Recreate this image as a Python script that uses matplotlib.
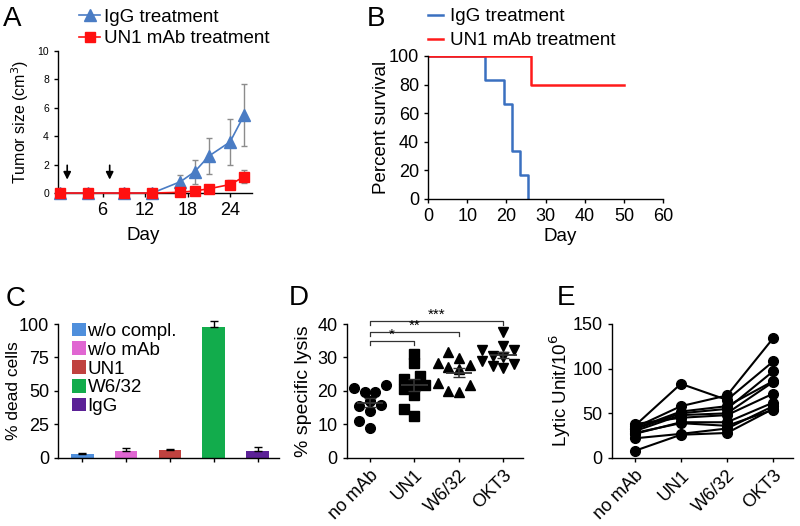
import numpy as np
import matplotlib.pyplot as plt

plt.rcParams['font.family'] = ['Liberation Sans', 'DejaVu Sans']

# A: tumour growth
days = [0, 4, 9, 13, 17, 19, 21, 24, 26]
igg_size = [0, 0, 0, 0, 0.8, 1.5, 2.6, 3.6, 5.5]
igg_err = [0, 0, 0, 0, 0.5, 0.85, 1.25, 1.6, 2.2]
un1_size = [0, 0, 0, 0, 0.05, 0.15, 0.3, 0.6, 1.15]
un1_err = [0, 0, 0, 0, 0.05, 0.1, 0.12, 0.35, 0.45]
injection_days = [1, 7]

# B: survival
igg_t = [0, 14.5, 19.3, 21.4, 23.5, 25.5]
igg_surv = [100, 83.3, 66.7, 33.3, 16.7, 0]
un1_t = [0, 26.4, 50]
un1_surv = [100, 80, 80]

# C: complement-dependent cytotoxicity
c_groups = ['w/o compl.', 'w/o mAb', 'UN1', 'W6/32', 'IgG']
c_dead = [2.5, 5, 5.7, 97.5, 5]
c_err = [1.2, 2.5, 0.8, 5, 3.2]
c_colors = ['#4f8fdc', '#e066d2', '#c0423f', '#12ac4c', '#5b2196']

# D: specific lysis
d_groups = ['no mAb', 'UN1', 'W6/32', 'OKT3']
d_nomab = [20.9, 21.7, 19.6, 19.7, 17, 15.6, 15.8, 14, 11, 9]
d_un1 = [31, 28.2, 24.4, 23.7, 21.7, 21.7, 20.5, 18.8, 14.6, 12.6]
d_w632 = [31.5, 29.7, 28.2, 27.7, 27.2, 26.5, 22.3, 21.7, 19.7, 20]
d_okt3 = [37.5, 33.5, 32.2, 32.2, 30.2, 30.5, 29, 27.9, 27.5, 26.9]
d_markers = ['o', 's', '^', 'v']
d_stars = ['*', '**', '***']

# E: lytic units per donor
e_nomab = [8, 22, 27, 30, 32, 34, 36, 38, 28, 33]
e_un1 = [26, 27, 40, 48, 50, 58, 83, 45, 39, 52]
e_w632 = [28, 33, 40, 50, 55, 70, 65, 48, 36, 58]
e_okt3 = [55, 58, 62, 85, 97, 134, 108, 72, 54, 86]


def style(ax):
    for s in ['top', 'right']:
        ax.spines[s].set_visible(False)
    for s in ['left', 'bottom']:
        ax.spines[s].set_linewidth(1.0)
    ax.tick_params(direction='out', length=3, width=1)


def swarm(values, dx, dy):
    placed = []
    offs = np.zeros(len(values))
    cand = sorted(np.arange(-8, 9) * dx / 2, key=abs)
    for i in np.argsort(values):
        v = values[i]
        for c in cand:
            if all(((c - px) / dx) ** 2 + ((v - py) / dy) ** 2 >= 1 for px, py in placed):
                break
        placed.append((c, v))
        offs[i] = c
    return offs


fig = plt.figure(figsize=(8, 5.26), dpi=100)

# ---- A
axA = fig.add_axes([0.0725, 0.633, 0.2425, 0.270])
style(axA)
blue = '#4a7cc4'
axA.errorbar(days, igg_size, yerr=igg_err, fmt='none', ecolor='#8c8c8c',
             elinewidth=1, capsize=2, zorder=2)
axA.errorbar(days, un1_size, yerr=un1_err, fmt='none', ecolor='#8c8c8c',
             elinewidth=1, capsize=2, zorder=2)
axA.plot(days, igg_size, '-^', color=blue, ms=8, lw=1.2, label='IgG treatment',
         clip_on=False, zorder=3)
axA.plot(days, un1_size, '-s', color='#ff1010', ms=7, lw=1.2,
         label='UN1 mAb treatment', clip_on=False, zorder=4)
for d in injection_days:
    axA.annotate('', xy=(d, 0.75), xytext=(d, 2.15),
                 arrowprops=dict(arrowstyle='-|>', color='k', lw=1.2, mutation_scale=11))
axA.set_xlim(-0.3, 27.1)
axA.set_ylim(0, 10)
axA.set_xticks([6, 12, 18, 24])
axA.set_yticks([0, 2, 4, 6, 8, 10])
axA.tick_params(axis='y', labelsize=7.5)
axA.tick_params(axis='x', labelsize=13)
axA.set_ylabel('Tumor size (cm$^3$)', fontsize=11.5)
axA.set_xlabel('Day', fontsize=13.5)
axA.yaxis.set_label_coords(-0.14, 0.5)
axA.xaxis.set_label_coords(0.44, -0.24)
axA.legend(loc='upper left', bbox_to_anchor=(0.11, 1.30), frameon=False,
           fontsize=13.5, borderpad=0, handlelength=1.1, handletextpad=0.2,
           labelspacing=0.25, numpoints=1, borderaxespad=0)

# ---- B
axB = fig.add_axes([0.535, 0.6217, 0.294, 0.272])
style(axB)
axB.step(igg_t, igg_surv, where='post', color='#3a70c0', lw=1.8, label='IgG treatment')
axB.step(un1_t, un1_surv, where='post', color='#ff1a1a', lw=1.8, label='UN1 mAb treatment')
axB.set_xlim(0, 60)
axB.set_ylim(0, 100)
axB.set_xticks(range(0, 61, 10))
axB.set_yticks(range(0, 101, 20))
axB.tick_params(labelsize=13)
axB.set_ylabel('Percent survival', fontsize=13.5)
axB.set_xlabel('Day', fontsize=13.5)
axB.yaxis.set_label_coords(-0.162, 0.5)
axB.xaxis.set_label_coords(0.56, -0.2)
axB.legend(loc='upper left', bbox_to_anchor=(0.0, 1.335), frameon=False,
           fontsize=13.5, borderpad=0, handlelength=0.8, handletextpad=0.4,
           labelspacing=0.38, borderaxespad=0)

# ---- C
axC = fig.add_axes([0.0725, 0.1299, 0.276, 0.254])
style(axC)
for i, (g, v, e, col) in enumerate(zip(c_groups, c_dead, c_err, c_colors)):
    axC.bar(i, v, width=0.52, color=col, label=g)
    axC.errorbar(i, v, yerr=[[0], [e]], fmt='none', ecolor='k', elinewidth=1,
                 capsize=3, clip_on=False)
axC.set_xlim(-0.55, 4.48)
axC.set_ylim(0, 100)
axC.set_xticks(range(len(c_groups)))
axC.set_xticklabels([])
axC.set_yticks([0, 25, 50, 75, 100])
axC.tick_params(labelsize=13)
axC.set_ylabel('% dead cells', fontsize=12.5)
axC.yaxis.set_label_coords(-0.167, 0.5)
axC.legend(loc='upper left', bbox_to_anchor=(0.063, 1.01), frameon=False,
           fontsize=13.5, borderpad=0, handlelength=0.75, handleheight=0.75,
           handletextpad=0.08, labelspacing=0.07, borderaxespad=0)

# ---- D
axD = fig.add_axes([0.4334, 0.1299, 0.2204, 0.254])
style(axD)
d_sets = [d_nomab, d_un1, d_w632, d_okt3]
for i, (vals, m) in enumerate(zip(d_sets, d_markers)):
    vals = np.array(vals)
    offs = swarm(vals, 0.24, 2.8)
    axD.plot(i + offs, vals, m, color='k', ms=7, ls='none', clip_on=False, zorder=3)
    mean = vals.mean()
    sem = vals.std(ddof=1) / np.sqrt(len(vals))
    axD.hlines(mean, i - 0.3, i + 0.3, color='#333333', lw=1.3, zorder=4)
    axD.errorbar(i, mean, yerr=sem, fmt='none', ecolor='#333333', elinewidth=1.2,
                 capsize=4.5, zorder=4)
for j, (stars, level) in enumerate(zip(d_stars, [35, 37.6, 40.9])):
    x1 = j + 1
    axD.plot([0, 0, x1, x1], [level - 1.2, level, level, level - 1.2], color='#333333',
             lw=0.9, clip_on=False)
    axD.text(x1 / 2, level - 0.2, stars, ha='center', va='bottom', fontsize=11)
axD.set_xlim(-0.52, 3.44)
axD.set_ylim(0, 40)
axD.set_xticks(range(4))
axD.set_xticklabels(d_groups, rotation=45, ha='right', rotation_mode='anchor')
axD.set_yticks([0, 10, 20, 30, 40])
axD.tick_params(labelsize=13)
axD.set_ylabel('% specific lysis', fontsize=14)
axD.yaxis.set_label_coords(-0.197, 0.5)

# ---- E
axE = fig.add_axes([0.7646, 0.1293, 0.2266, 0.2548])
style(axE)
e_sets = np.array([e_nomab, e_un1, e_w632, e_okt3])
for donor in e_sets.T:
    axE.plot(range(4), donor, '-o', color='k', ms=7, lw=1.5, clip_on=False)
axE.set_xlim(-0.5, 3.43)
axE.set_ylim(0, 150)
axE.set_xticks(range(4))
axE.set_xticklabels(d_groups, rotation=45, ha='right', rotation_mode='anchor')
axE.set_yticks([0, 50, 100, 150])
axE.tick_params(labelsize=13)
axE.set_ylabel('Lytic Unit/10$^6$', fontsize=13.5)
axE.yaxis.set_label_coords(-0.215, 0.5)

# panel letters
for letter, x, y in [('A', 0.004, 0.988), ('B', 0.458, 0.988), ('C', 0.007, 0.456),
                     ('D', 0.361, 0.459), ('E', 0.696, 0.459)]:
    fig.text(x, y, letter, fontsize=20, ha='left', va='top')

fig.savefig('out.png', dpi=100)
